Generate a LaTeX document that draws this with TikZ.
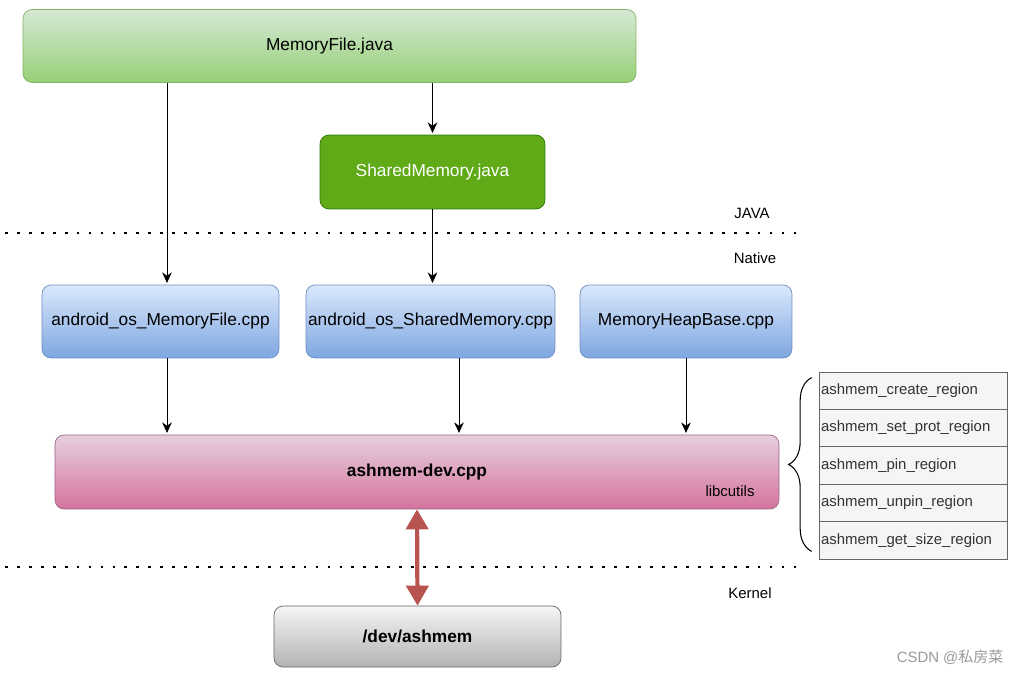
\documentclass[tikz,border=0pt]{standalone}
\usepackage{fontspec}
\setmainfont{Liberation Sans}
\newfontfamily\cjkfont{Noto Sans CJK SC}
\usetikzlibrary{arrows.meta,decorations.pathreplacing}
\definecolor{greenTop}{HTML}{D5E8D4}
\definecolor{greenBot}{HTML}{97D077}
\definecolor{greenLine}{HTML}{82B366}
\definecolor{darkGreen}{HTML}{60A917}
\definecolor{darkGreenLine}{HTML}{2D7600}
\definecolor{blueTop}{HTML}{DAE8FC}
\definecolor{blueBot}{HTML}{7EA6E0}
\definecolor{blueLine}{HTML}{6C8EBF}
\definecolor{pinkTop}{HTML}{E6D0DE}
\definecolor{pinkBot}{HTML}{D5739D}
\definecolor{pinkLine}{HTML}{996185}
\definecolor{grayTop}{HTML}{F5F5F5}
\definecolor{grayBot}{HTML}{B3B3B3}
\definecolor{grayLine}{HTML}{666666}
\definecolor{redArrow}{HTML}{B85450}
\begin{document}
\begin{tikzpicture}[x=0.02cm,y=-0.02cm,>={Stealth[length=6pt,width=5.5pt]},
    box/.style={draw,rounded corners=0.18cm,align=center,inner sep=0pt,
        font=\fontsize{9.85}{12}\selectfont,minimum height=1.46cm},
    javabox/.style={box,top color=greenTop,bottom color=greenBot,draw=greenLine},
    jnibox/.style={box,top color=blueTop,bottom color=blueBot,draw=blueLine},
    label/.style={font=\fontsize{8.5}{10}\selectfont,inner sep=1pt},
    layer/.style={line width=1.6pt,dash pattern=on 1.6pt off 5.2pt}]
\useasboundingbox (0,0) rectangle (1015,673);

\node[javabox,minimum width=12.26cm] (mf) at (329.5,46) {MemoryFile.java};
\node[box,fill=darkGreen,draw=darkGreenLine,text=white,minimum width=4.5cm,
    minimum height=1.48cm] (sm) at (432.5,172) {SharedMemory.java};

\node[jnibox,minimum width=4.74cm] (amf) at (160.5,321.5) {android\_os\_MemoryFile.cpp};
\node[jnibox,minimum width=4.98cm] (asm) at (430.5,321.5) {android\_os\_SharedMemory.cpp};
\node[jnibox,minimum width=4.24cm] (mhb) at (686,321.5) {MemoryHeapBase.cpp};

\node[box,top color=pinkTop,bottom color=pinkBot,draw=pinkLine,minimum width=14.48cm,
    minimum height=1.48cm,font=\fontsize{9.85}{12}\selectfont\bfseries] (ad) at (417,472) {ashmem-dev.cpp};
\node[label] (lib) at (730,491) {libcutils};

\node[box,top color=grayTop,bottom color=grayBot,draw=grayLine,minimum width=5.74cm,
    minimum height=1.22cm,font=\fontsize{9.85}{12}\selectfont\bfseries] (dev) at (417.5,636.5) {/dev/ashmem};

\draw[layer] (5,233)--(800,233);
\draw[layer] (5,567)--(800,567);
\node[label] (java) at (752,213) {JAVA};
\node[label] (native) at (755,258) {Native};
\node[label] (kernel) at (750,593) {Kernel};

\draw[->,shorten >=1pt] ([xshift=0.13cm]amf.north |- mf.south)--([xshift=0.13cm]amf.north);
\draw[->,shorten >=1pt] (sm.north |- mf.south)--(sm.north);
\draw[->,shorten >=1pt] (sm.south)--(sm.south |- asm.north);
\draw[->,shorten >=1pt] ([xshift=0.13cm]amf.south)--([xshift=0.13cm]amf.south |- ad.north);
\draw[->,shorten >=1pt] ([xshift=0.57cm]asm.south)--([xshift=0.57cm]asm.south |- ad.north);
\draw[->,shorten >=1pt] (mhb.south)--(mhb.south |- ad.north);

\draw[redArrow,line width=2.4pt,{Triangle[length=0.4cm,width=0.44cm]}-{Triangle[length=0.4cm,width=0.44cm]}]
    (ad.south)--(dev.north);

\foreach \name [count=\i] in {ashmem\_create\_region,ashmem\_set\_prot\_region,
    ashmem\_pin\_region,ashmem\_unpin\_region,ashmem\_get\_size\_region}
{
    \node[draw=grayLine,fill=grayTop,text=black!80,font=\fontsize{8.5}{10}\selectfont,
        text width=3.68cm,inner xsep=0.04cm,minimum height=0.75cm,align=left]
        (r\i) at (913,353.3+37.4*\i) {\name};
}
\draw[line width=0.6pt,decorate,decoration={brace,amplitude=0.46cm}]
    ([xshift=-0.14cm,yshift=0.16cm]r5.south west)--([xshift=-0.14cm,yshift=-0.12cm]r1.north west);

\node[text=black!40,font=\fontsize{8.5}{10}\selectfont] (wm) at (950,657) {CSDN @{\cjkfont 私房菜}};
\end{tikzpicture}
\end{document}
